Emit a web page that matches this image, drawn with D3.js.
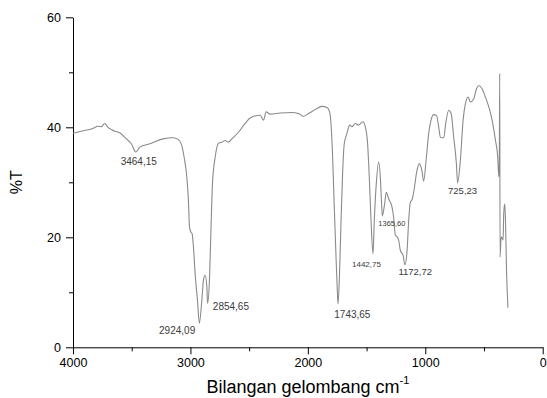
<!DOCTYPE html>
<html>
<head>
<meta charset="utf-8">
<script src="https://cdn.jsdelivr.net/npm/d3@7"></script>
<style>
  body { margin: 0; background: #fff; }
  svg { display: block; font-family: 'Liberation Sans', Arial, sans-serif; }
  .axis path, .axis line { stroke: #000; stroke-width: 1; }
  .axis text { font-size: 12.5px; fill: #000; font-family: 'Liberation Sans', Arial, sans-serif; }
  .peak { fill: #3a3a3a; }
</style>
</head>
<body>
<div id="app"></div>
<script>
// IR spectrum
const wavenumber = [
  4000, 3950, 3830, 3787, 3759, 3730, 3702, 3673, 3645, 3602, 3546, 3503, 3465, 3431, 3346, 3233,
  3148, 3105, 3075, 3054, 3031, 3017, 3008, 2997, 2986, 2974, 2960, 2940, 2924, 2903, 2889, 2875,
  2860, 2854, 2838, 2826, 2812, 2789, 2761, 2732, 2704, 2676, 2647, 2591, 2534, 2491, 2406, 2378,
  2355, 2321, 2235, 2136, 2079, 2037, 1994, 1923, 1880, 1837, 1815, 1803, 1789, 1775, 1760, 1748,
  1743, 1730, 1718, 1704, 1690, 1667, 1644, 1624, 1596, 1568, 1530, 1511, 1491, 1477, 1462, 1445,
  1434, 1417, 1397, 1383, 1372, 1366, 1346, 1332, 1312, 1283, 1270, 1255, 1240, 1227, 1212, 1189,
  1173, 1155, 1141, 1127, 1113, 1099, 1070, 1050, 1027, 1014, 993, 971, 951, 928, 905, 886,
  871, 843, 826, 800, 780, 758, 735, 725, 701, 678, 658, 635, 616, 587, 564, 545,
  516, 488, 459, 431, 402, 383, 374, 370, 366, 363, 354, 345, 337, 332, 323, 317,
  308, 296
]
const transmittance = [
  38.9, 39.2, 39.8, 40.2, 40.1, 40.7, 40.0, 39.6, 39.3, 39.0, 37.9, 37.0, 35.5, 36.4, 37.0, 37.9,
  38.1, 37.8, 36.8, 34.6, 31.0, 26.7, 21.9, 21.0, 20.7, 18.2, 13.4, 8.5, 4.4, 8.5, 12.2, 13.1,
  11.0, 8.0, 12.2, 20.7, 29.8, 34.6, 37.1, 37.3, 37.6, 37.3, 37.9, 39.1, 40.7, 41.7, 42.2, 41.3,
  42.8, 42.4, 42.6, 42.7, 42.5, 42.0, 42.5, 43.4, 43.8, 43.6, 42.8, 40.7, 34.6, 25.5, 16.4, 9.8,
  7.9, 13.5, 22.5, 31.6, 37.0, 38.9, 40.4, 40.1, 40.7, 40.4, 41.0, 40.1, 37.0, 31.0, 23.1, 17.0,
  23.1, 29.8, 33.7, 31.0, 26.1, 23.9, 26.1, 28.2, 27.0, 25.5, 23.7, 20.4, 20.1, 19.5, 17.6, 16.7,
  15.0, 17.6, 23.1, 26.4, 26.8, 28.2, 32.2, 33.4, 31.9, 30.2, 34.0, 38.9, 41.3, 42.3, 42.2, 40.1,
  38.2, 38.1, 40.7, 43.1, 42.5, 38.2, 33.4, 29.9, 34.0, 41.3, 44.3, 45.5, 44.6, 45.2, 47.0, 47.6,
  47.0, 45.5, 43.7, 41.3, 37.6, 34.6, 31.0, 32.5, 49.8, 16.4, 20.1, 19.8, 19.5, 24.3, 26.1, 23.1,
  14.0, 7.2
]

// peak annotations: text, left edge (cm-1) and baseline (%T)
const peakText = ['3464,15', '2924,09', '2854,65', '1743,65', '1442,75', '1365,60', '1172,72', '725,23']
const peakX = [3594, 3267, 2809, 1775, 1624, 1400, 1229, 806]
const peakY = [33.1, 2.5, 6.7, 5.3, 14.6, 22.0, 13.1, 27.8]
const peakSize = [10, 10, 10, 10, 8, 7.5, 9.5, 9.5]

const xTicks = [4000, 3000, 2000, 1000, 0]
const yTicks = [0, 20, 40, 60]

const W = 547, H = 398
const margin = { top: 17.3, right: 4.3, bottom: 50.7, left: 73 }
const width = W - margin.left - margin.right
const height = H - margin.top - margin.bottom

const svg = d3.select('#app').append('svg')
  .attr('width', W).attr('height', H)

const g = svg.append('g')
  .attr('transform', `translate(${margin.left},${margin.top})`)

const x = d3.scaleLinear().domain([4000, 0]).range([0, width])
const y = d3.scaleLinear().domain([0, 60]).range([height, 0])

// minor ticks
g.append('g')
  .attr('class', 'axis')
  .attr('transform', `translate(0,${height})`)
  .call(d3.axisBottom(x).tickValues(d3.range(3500, 0, -1000)).tickSize(4).tickFormat(''))
  .select('.domain').remove()
g.append('g')
  .attr('class', 'axis')
  .call(d3.axisLeft(y).tickValues([10, 30, 50]).tickSize(4).tickFormat(''))
  .select('.domain').remove()

// X axis
g.append('g')
  .attr('class', 'axis')
  .attr('transform', `translate(0,${height})`)
  .call(d3.axisBottom(x).tickValues(xTicks).tickSize(7).tickSizeOuter(0).tickPadding(4).tickFormat(d3.format('d')))

// Y axis
g.append('g')
  .attr('class', 'axis')
  .call(d3.axisLeft(y).tickValues(yTicks).tickSize(7).tickSizeOuter(0).tickPadding(5))

// spectrum
const line = d3.line()
  .x(i => x(wavenumber[i]))
  .y(i => y(transmittance[i]))
  .curve(d3.curveMonotoneX)

g.append('path')
  .datum(d3.range(wavenumber.length))
  .attr('fill', 'none')
  .attr('stroke', '#8a8a8a')
  .attr('stroke-width', 1.1)
  .attr('d', line)

// peak labels
g.selectAll('.peak')
  .data(peakText)
  .join('text')
  .attr('class', 'peak')
  .attr('x', (_, i) => x(peakX[i]))
  .attr('y', (_, i) => y(peakY[i]))
  .attr('font-size', (_, i) => peakSize[i])
  .text(d => d)

// axis labels
svg.append('text')
  .attr('transform', `translate(22,${margin.top + height / 2}) rotate(-90)`)
  .attr('text-anchor', 'middle')
  .attr('font-size', 16)
  .text('%T')

const xl = svg.append('text')
  .attr('x', margin.left + width / 2)
  .attr('y', 393)
  .attr('text-anchor', 'middle')
  .attr('font-size', 18)
xl.append('tspan').text('Bilangan gelombang cm')
xl.append('tspan').attr('font-size', 11).attr('dy', -9).text('-1')
</script>
</body>
</html>
